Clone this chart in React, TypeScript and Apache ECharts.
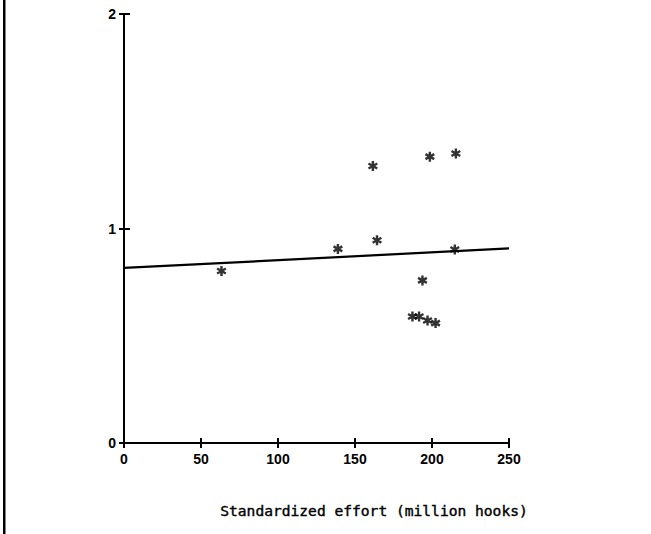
import React, { useEffect, useRef } from "react";
import * as echarts from "echarts";

const xTicks = [0, 50, 100, 150, 200, 250];
const yTicks = [0, 1, 2];
const effort = [63.3, 138.9, 161.6, 164.3, 187.3, 191.6, 193.8, 197.1, 198.6, 202.3, 214.8, 215.5];
const cpue = [0.802, 0.905, 1.291, 0.945, 0.59, 0.59, 0.758, 0.571, 1.335, 0.559, 0.902, 1.35];
const fitX = [0, 250];
const fitY = [0.816, 0.907];
const xTitle = "Standardized effort (million hooks)";

const STAR =
  "path://M3.8,0 L6.2,0 L6.2,10 L3.8,10 Z M8.73,1.46 L9.93,3.54 L1.27,8.54 L0.07,6.46 Z M9.93,6.46 L8.73,8.54 L0.07,3.54 L1.27,1.46 Z";

export default function App() {
  const ref = useRef<HTMLDivElement>(null);
  useEffect(() => {
    document.body.style.margin = "0";
    const chart = echarts.init(ref.current!, null, { renderer: "svg" });
    const labelFont = {
      color: "#000",
      fontFamily: "Liberation Sans Narrow, Liberation Sans, Arial",
      fontWeight: "bold" as const,
      fontSize: 14,
    };
    chart.setOption({
      animation: false,
      backgroundColor: "#fff",
      grid: { left: 124, right: 142, top: 14, bottom: 91, containLabel: false },
      xAxis: [
        {
          type: "value",
          min: 0,
          max: 250,
          interval: 50,
          axisLine: { lineStyle: { color: "#000", width: 2 } },
          axisTick: { length: 5, lineStyle: { color: "#000", width: 2 } },
          axisLabel: { ...labelFont, margin: 9, formatter: (v: number) => (xTicks.includes(v) ? String(v) : "") },
          splitLine: { show: false },
        },
        {
          type: "value",
          position: "bottom",
          min: 0,
          max: 250,
          interval: 50,
          axisLine: { show: false },
          axisTick: { inside: true, length: 5, lineStyle: { color: "#000", width: 2 } },
          axisLabel: { show: false },
          splitLine: { show: false },
        },
      ],
      yAxis: [
        {
          type: "value",
          min: 0,
          max: 2,
          interval: 1,
          axisLine: { lineStyle: { color: "#000", width: 2 } },
          axisTick: { length: 5, lineStyle: { color: "#000", width: 2 } },
          axisLabel: { ...labelFont, margin: 8, formatter: (v: number) => (yTicks.includes(v) ? String(v) : "") },
          splitLine: { show: false },
        },
        {
          type: "value",
          position: "left",
          min: 0,
          max: 2,
          interval: 1,
          axisLine: { show: false },
          axisTick: { inside: true, length: 6, lineStyle: { color: "#000", width: 2 } },
          axisLabel: { show: false },
          splitLine: { show: false },
        },
      ],
      series: [
        {
          type: "line",
          data: fitX.map((x, i) => [x, fitY[i]]),
          showSymbol: false,
          symbol: "none",
          lineStyle: { color: "#000", width: 2.2 },
          silent: true,
        },
        {
          type: "scatter",
          data: effort.map((x, i) => [x, cpue[i]]),
          symbol: STAR,
          symbolSize: 10,
          itemStyle: { color: "#000" },
        },
      ],
      graphic: [
        { type: "rect", shape: { x: 3, y: 0, width: 2.5, height: 534 }, style: { fill: "#000" } },
        {
          type: "text",
          x: 374,
          y: 510,
          style: {
            text: xTitle,
            fill: "#000",
            stroke: "#000",
            lineWidth: 0.4,
            font: "14.6px 'DejaVu Sans Mono'",
            textAlign: "center",
            textVerticalAlign: "middle",
          },
        },
      ],
    });
    return () => chart.dispose();
  }, []);
  return <div ref={ref} style={{ position: "fixed", left: 0, top: 0, width: 651, height: 534 }} />;
}
